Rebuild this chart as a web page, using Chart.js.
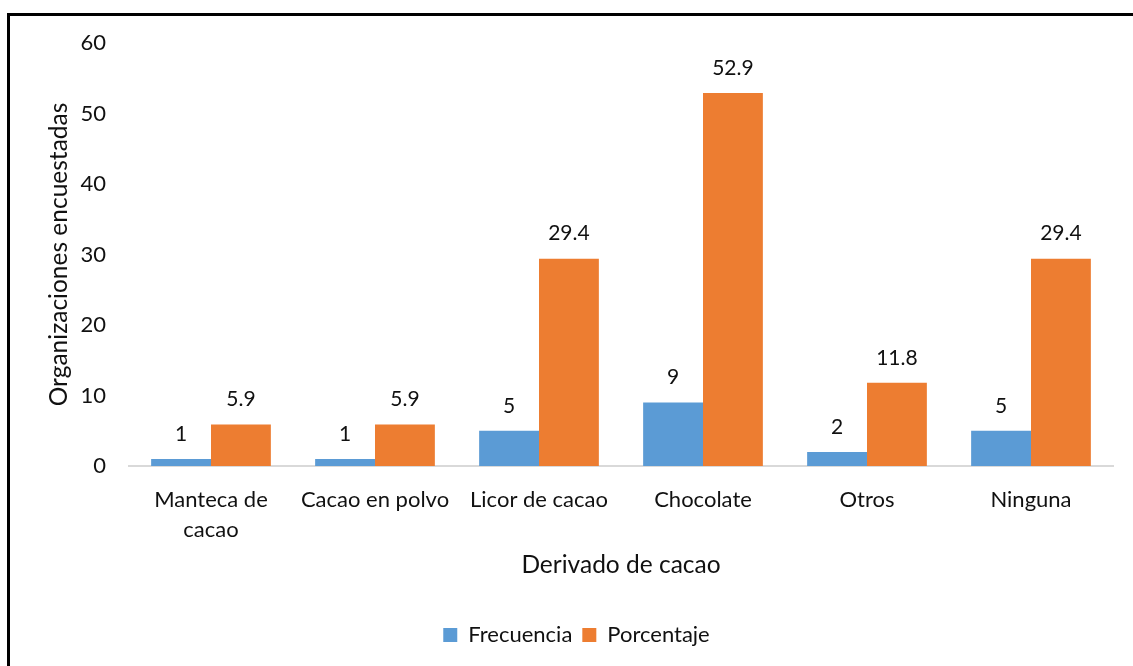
<!DOCTYPE html>
<html>
<head>
<meta charset="utf-8">
<script src="https://cdn.jsdelivr.net/npm/chart.js@4.4.1/dist/chart.umd.min.js"></script>
<style>
  html, body { margin: 0; padding: 0; background: #fff; }
  #wrap { position: relative; width: 1133px; height: 666px; overflow: hidden; }
  #frame { position: absolute; left: 7px; top: 13px; width: 1400px; height: 900px;
           border-left: 3px solid #000; border-top: 3px solid #000; box-sizing: border-box; }
  canvas { position: absolute; left: 0; top: 0; }
</style>
</head>
<body>
<div id="wrap">
  <div id="frame"></div>
  <canvas id="c" width="1133" height="666"></canvas>
</div>
<script>
const categories = [["Manteca de", "cacao"], "Cacao en polvo", "Licor de cacao", "Chocolate", "Otros", "Ninguna"];
const frecuencia = [1, 1, 5, 9, 2, 5];
const porcentaje = [5.9, 5.9, 29.4, 52.9, 11.8, 29.4];
const yTicks = [0, 10, 20, 30, 40, 50, 60];

const FONT = "Lato, 'Liberation Sans', sans-serif";
const TEXT = "#111";

// Writes each bar's value above it
const valueLabels = {
  id: "valueLabels",
  afterDatasetsDraw(chart) {
    const ctx = chart.ctx;
    ctx.save();
    ctx.font = "21px " + FONT;
    ctx.fillStyle = TEXT;
    ctx.textAlign = "center";
    ctx.textBaseline = "middle";
    chart.data.datasets.forEach((ds, i) => {
      const meta = chart.getDatasetMeta(i);
      meta.data.forEach((bar, j) => {
        ctx.fillText(String(ds.data[j]), bar.x, bar.y - 25);
      });
    });
    ctx.restore();
  }
};

new Chart(document.getElementById("c"), {
  type: "bar",
  data: {
    labels: categories,
    datasets: [
      { label: "Frecuencia", data: frecuencia, backgroundColor: "#5B9BD5" },
      { label: "Porcentaje", data: porcentaje, backgroundColor: "#ED7D31" }
    ]
  },
  options: {
    responsive: false,
    devicePixelRatio: 1,
    animation: false,
    layout: { padding: { left: 40, right: 20, top: 43, bottom: 10 } },
    datasets: { bar: { categoryPercentage: 0.73, barPercentage: 1.0 } },
    plugins: {
      tooltip: { enabled: false },
      legend: {
        position: "bottom",
        labels: {
          font: { family: FONT, size: 22 },
          color: TEXT,
          boxWidth: 14,
          boxHeight: 14,
          padding: 10
        }
      }
    },
    scales: {
      x: {
        grid: { display: false },
        border: { display: true, color: "#D9D9D9", width: 2 },
        ticks: {
          font: { family: FONT, size: 22, lineHeight: 1.36 },
          color: TEXT,
          padding: 11,
          maxRotation: 0,
          autoSkip: false
        },
        title: {
          display: true,
          text: "Derivado de cacao",
          font: { family: FONT, size: 24.5 },
          color: TEXT,
          padding: { top: 0, bottom: 34 }
        },
        afterFit(scale) { scale.height = 148; }
      },
      y: {
        min: 0,
        max: 60,
        afterBuildTicks(scale) { scale.ticks = yTicks.map(v => ({ value: v })); },
        grid: { display: false, drawTicks: false },
        border: { display: false },
        ticks: {
          font: { family: FONT, size: 22 },
          color: TEXT,
          padding: 23
        },
        title: {
          display: true,
          text: "Organizaciones encuestadas",
          font: { family: FONT, size: 24.5 },
          color: TEXT,
          padding: { top: 4, bottom: 0 }
        },
        afterFit(scale) { scale.width = 89; }
      }
    }
  },
  plugins: [valueLabels]
});
</script>
</body>
</html>
